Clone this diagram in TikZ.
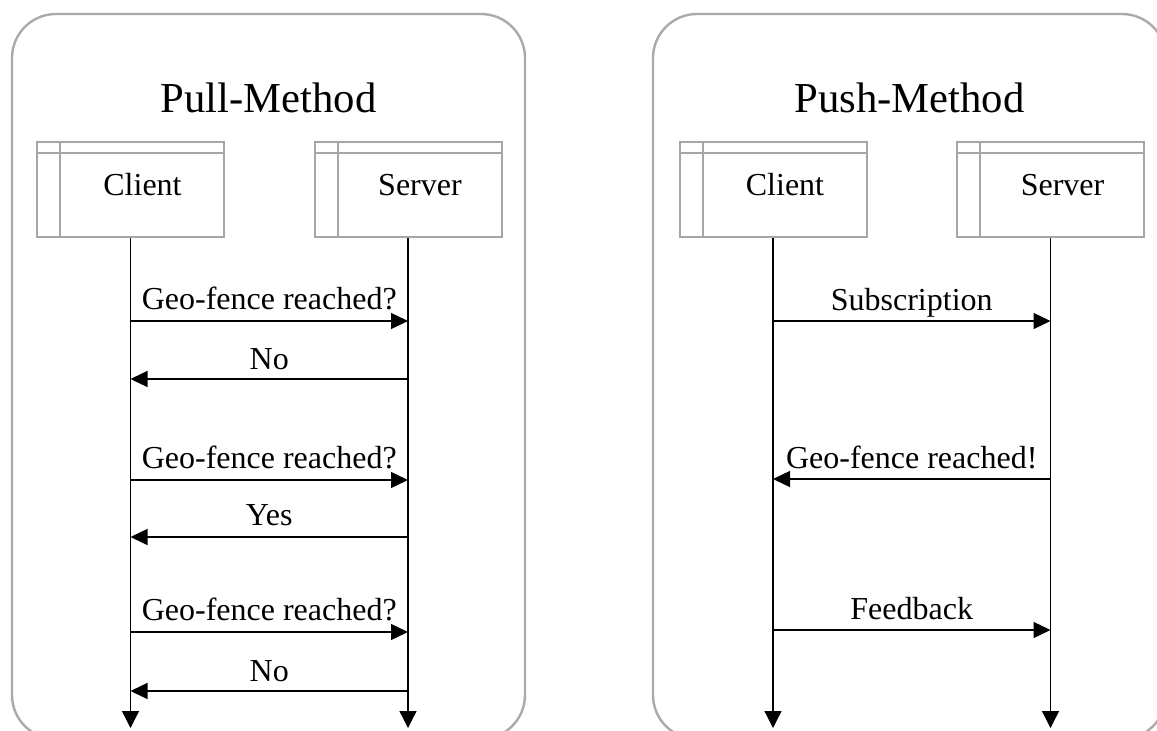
\documentclass[tikz,border=0pt]{standalone}
\usepackage{fontspec}
\setmainfont{Liberation Serif}
\usetikzlibrary{arrows.meta}
\definecolor{boxgray}{RGB}{166,166,166}
\definecolor{framegray}{RGB}{170,170,170}
\tikzset{
  frame/.style={draw=framegray, line width=2.4pt, rounded corners=44pt},
  lifebox/.style={draw=boxgray, line width=2pt, minimum width=187pt, minimum height=95pt, inner sep=0pt},
  boxline/.style={draw=boxgray, line width=2pt},
  lifeline/.style={draw=black, line width=1.3pt, -{Triangle[length=17pt,width=17pt]}},
  msg/.style={draw=black, line width=1.3pt, -{Triangle[length=17pt,width=16pt]}},
  lbl/.style={font=\fontsize{32}{38}\selectfont, anchor=base, inner sep=0pt},
  title/.style={font=\fontsize{42.7}{50}\selectfont, anchor=base, inner sep=0pt}
}
\newcommand{\lifeparts}[2]{%
  \draw[boxline] ([xshift=24pt]#1.north west) -- ([xshift=24pt]#1.south west);
  \draw[boxline] ([yshift=-11.5pt]#1.north west) -- ([yshift=-11.5pt]#1.north east);
  \node[lbl] (#1t) at ([xshift=12pt]#1.center |- 0,195) {#2};
}
\begin{document}
\begin{tikzpicture}[x=1pt,y=-1pt]
\clip (0,0) rectangle (1157,731);
\fill[white] (0,0) rectangle (1157,731);
% containers
\draw[frame] (12,14) rectangle (525,739);
\draw[frame] (653,14) rectangle (1166,739);
\node[title] (pulltitle) at (268.5,112) {Pull-Method};
\node[title] (pushtitle) at (909.5,112) {Push-Method};
% lifeline boxes
\node[lifebox] (c1) at (130.5,189.5) {};
\node[lifebox] (s1) at (408,189.5) {};
\node[lifebox] (c2) at (773,189.5) {};
\node[lifebox] (s2) at (1050.5,189.5) {};
\lifeparts{c1}{Client}
\lifeparts{s1}{Server}
\lifeparts{c2}{Client}
\lifeparts{s2}{Server}
% lifeline ends
\coordinate (c1end) at (c1.south |- 0,728);
\coordinate (s1end) at (s1.south |- 0,728);
\coordinate (c2end) at (c2.south |- 0,728);
\coordinate (s2end) at (s2.south |- 0,728);
\draw[lifeline] (c1.south) -- (c1end);
\draw[lifeline] (s1.south) -- (s1end);
\draw[lifeline] (c2.south) -- (c2end);
\draw[lifeline] (s2.south) -- (s2end);
% pull messages
\foreach \y/\n in {321/a,379/b,480/c,537/d,632/e,691/f}{
  \coordinate (c1m\n) at (c1.south |- 0,\y);
  \coordinate (s1m\n) at (s1.south |- 0,\y);
}
\draw[msg] (c1ma) -- node[lbl, above=12pt, anchor=base] {Geo-fence reached?} (s1ma);
\draw[msg] (s1mb) -- node[lbl, above=10pt, anchor=base] {No} (c1mb);
\draw[msg] (c1mc) -- node[lbl, above=12pt, anchor=base] {Geo-fence reached?} (s1mc);
\draw[msg] (s1md) -- node[lbl, above=12pt, anchor=base] {Yes} (c1md);
\draw[msg] (c1me) -- node[lbl, above=12pt, anchor=base] {Geo-fence reached?} (s1me);
\draw[msg] (s1mf) -- node[lbl, above=10pt, anchor=base] {No} (c1mf);
% push messages
\foreach \y/\n in {321/a,479/b,630/c}{
  \coordinate (c2m\n) at (c2.south |- 0,\y);
  \coordinate (s2m\n) at (s2.south |- 0,\y);
}
\draw[msg] (c2ma) -- node[lbl, above=11pt, anchor=base] {Subscription} (s2ma);
\draw[msg] (s2mb) -- node[lbl, above=11pt, anchor=base] {Geo-fence reached!} (c2mb);
\draw[msg] (c2mc) -- node[lbl, above=11pt, anchor=base] {Feedback} (s2mc);
\end{tikzpicture}
\end{document}
